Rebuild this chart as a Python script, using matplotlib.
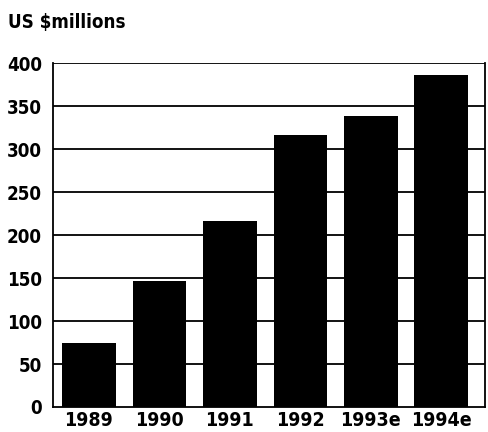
import matplotlib.pyplot as plt

# Values (US $ millions)
years = ['1989', '1990', '1991', '1992', '1993e', '1994e']
values = [74, 147, 216, 316, 338, 386]
yticks = [0, 50, 100, 150, 200, 250, 300, 350, 400]

plt.rcParams['font.family'] = ['DejaVu Sans']

fig = plt.figure(figsize=(4.88, 4.32), dpi=100)
ax = fig.add_axes([0.1086, 0.0579, 0.885, 0.796])

for y in yticks[1:]:
    ax.axhline(y, color='black', lw=1.3, zorder=1)

ax.bar(range(len(years)), values, width=0.76, color='black', zorder=2)

ax.set_xlim(-0.51, 5.62)
ax.set_ylim(0, 400)
ax.set_xticks(range(len(years)))
ax.set_xticklabels(years, fontsize=14, fontweight='bold', fontstretch='condensed')
ax.set_yticks(yticks)
ax.set_yticklabels([str(t) for t in yticks], fontsize=13.5, fontweight='bold',
                   fontstretch='condensed')
ax.tick_params(axis='x', length=0, pad=3)
ax.tick_params(axis='y', length=0, pad=8)

for side in ['left', 'bottom', 'right']:
    ax.spines[side].set_linewidth(1.3)
ax.spines['top'].set_visible(False)

fig.text(0.016, 0.948, 'US $millions', fontsize=13.5, fontweight='bold',
         fontstretch='condensed', va='center', ha='left')

fig.savefig('out.png', dpi=100)
